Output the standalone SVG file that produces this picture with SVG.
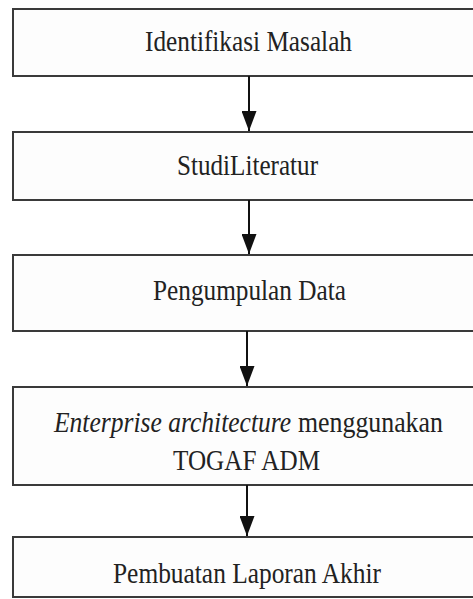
<svg xmlns="http://www.w3.org/2000/svg" width="473" height="599" viewBox="0 0 473 599">
<style>
.box{fill:#fdfdfd;stroke:#3a3a3a;stroke-width:2}
.lbl{font-family:"Liberation Serif","Times New Roman",serif;font-size:29px;fill:#222;text-anchor:middle}
.st{text-anchor:start}
.it{font-style:italic}
.conn{stroke:#111;stroke-width:2;fill:none}
</style>
<defs>
<marker id="ah" markerUnits="userSpaceOnUse" markerWidth="20" markerHeight="15" refX="20" refY="7.5" orient="auto">
<path d="M0,0 L20,7.5 L0,15 z" fill="#111"/>
</marker>
</defs>
<rect width="473" height="599" fill="#ffffff"/>
<g id="n1">
<rect class="box" x="13" y="9" width="480" height="67"/>
<text class="lbl" x="248.5" y="51" textLength="207" lengthAdjust="spacingAndGlyphs">Identifikasi Masalah</text>
</g>
<g id="n2">
<rect class="box" x="13" y="132" width="480" height="68"/>
<text class="lbl" x="247.5" y="175" textLength="141" lengthAdjust="spacingAndGlyphs">StudiLiteratur</text>
</g>
<g id="n3">
<rect class="box" x="13" y="255" width="480" height="76"/>
<text class="lbl" x="249.5" y="300" textLength="193" lengthAdjust="spacingAndGlyphs">Pengumpulan Data</text>
</g>
<g id="n4">
<rect class="box" x="13" y="387" width="480" height="98"/>
<text class="lbl st it" transform="translate(54,432) scale(0.875,1)" x="0" y="0" textLength="271" lengthAdjust="spacingAndGlyphs">Enterprise architecture</text>
<text class="lbl st" transform="translate(298,432) scale(0.9,1)" x="0" y="0" textLength="161" lengthAdjust="spacingAndGlyphs">menggunakan</text>
<text class="lbl" x="246.5" y="470" textLength="147" lengthAdjust="spacingAndGlyphs">TOGAF ADM</text>
</g>
<g id="n5">
<rect class="box" x="13" y="537" width="480" height="60"/>
<text class="lbl" x="247" y="583" textLength="268" lengthAdjust="spacingAndGlyphs">Pembuatan Laporan Akhir</text>
</g>
<g id="connectors">
<line class="conn" x1="249" y1="76" x2="249" y2="131" marker-end="url(#ah)"/>
<line class="conn" x1="249" y1="200" x2="249" y2="254" marker-end="url(#ah)"/>
<line class="conn" x1="247" y1="331" x2="247" y2="386" marker-end="url(#ah)"/>
<line class="conn" x1="247" y1="485" x2="247" y2="536" marker-end="url(#ah)"/>
</g>
</svg>
